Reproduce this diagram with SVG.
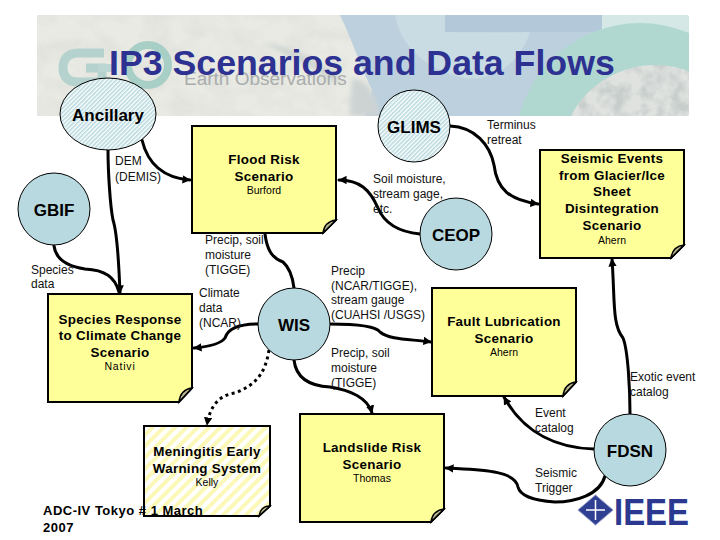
<svg xmlns="http://www.w3.org/2000/svg" width="720" height="540" viewBox="0 0 720 540">
<style>
text{font-family:"Liberation Sans",Arial,sans-serif;fill:#000}
.l{font-size:12px;fill:#111}
.s{font-size:13.4px;font-weight:bold;text-anchor:middle;letter-spacing:.3px}
.a{font-size:10.5px;text-anchor:middle}
.c{font-size:17px;font-weight:bold;text-anchor:middle}
.n{stroke:#000;stroke-width:1}
.box{stroke:#000;stroke-width:2}
.fold{fill:#b9b68f;stroke:#000;stroke-width:1.5}
.con path{fill:none;stroke:#000;stroke-width:3;stroke-linecap:round}
</style>
<defs>
<pattern id="h1" width="3" height="3" patternUnits="userSpaceOnUse" patternTransform="rotate(-45)"><rect width="3" height="3" fill="#fff"/><rect width="3" height="1.6" fill="#b8d9df"/></pattern>
<pattern id="h2" width="8" height="8" patternUnits="userSpaceOnUse" patternTransform="rotate(-45)"><rect width="8" height="8" fill="#fff"/><rect width="8" height="4" fill="#fbf8b8"/></pattern>
<marker id="ar" viewBox="0 0 10 10" refX="9" refY="5" markerWidth="2.8" markerHeight="2.8" orient="auto"><path d="M0 0L10 5L0 10Z" fill="#000"/></marker>
<filter id="mot" x="0" y="0" width="1" height="1"><feTurbulence type="fractalNoise" baseFrequency=".035 .05" numOctaves="4" seed="5"/><feColorMatrix values="0 0 0 0 .62  0 0 0 0 .64  0 0 0 0 .62  1.6 0 0 0 -.62"/></filter>
<filter id="mot2" x="0" y="0" width="1" height="1"><feTurbulence type="fractalNoise" baseFrequency=".07" numOctaves="3" seed="9"/><feColorMatrix values="0 0 0 0 .45  0 0 0 0 .5  0 0 0 0 .5  3 0 0 0 -1.2"/></filter>
<filter id="soft" x="-20%" y="-20%" width="140%" height="140%"><feGaussianBlur stdDeviation="2.500"/></filter>
<clipPath id="earth"><circle cx="655" cy="160" r="95"/></clipPath>
<clipPath id="land"><path d="M37 15H340C352 40 362 70 372 90L365 116H37Z"/></clipPath>
<clipPath id="bc"><rect x="37" y="15" width="652" height="101" rx="3"/></clipPath>
</defs>
<g id="banner" clip-path="url(#bc)">
<rect x="37" y="15" width="652" height="101" fill="#bcd0de"/>
<path d="M37 15H340C352 40 362 70 372 90L365 116H37Z" fill="#e9eae3"/>
<rect x="37" y="15" width="335" height="101" filter="url(#mot)" opacity=".45" clip-path="url(#land)"/>
<path d="M352 78C366 80 376 92 380 116H350Z" fill="#cdd3d3" filter="url(#soft)"/>
<path d="M262 42C285 45 310 55 340 78L335 82C310 65 285 55 262 42Z" fill="#ced4d2" filter="url(#soft)"/>
<path d="M395 15H445V32C460 32 500 33 530 32C520 65 490 82 465 78C425 70 400 45 395 15Z" fill="#c9dce4"/>
<path d="M445 15H602V28C600 31 598 32 594 32H445Z" fill="#b3c9da"/>
<path d="M602 15H689V116H602Z" fill="#d5e8e6"/>
<circle cx="640" cy="148" r="125" fill="#b0d8d0"/>
<circle cx="655" cy="160" r="95" fill="#dfe2df"/>
<rect x="560" y="60" width="129" height="56" filter="url(#mot2)" clip-path="url(#earth)" opacity=".55"/>
<path d="M104 53H78C67 53 63 60 63 68C63 77 68 82 78 82H102V68H86" fill="none" stroke="#b5d2cf" stroke-width="9"/>
<path d="M98 68H114" fill="none" stroke="#bcd6d3" stroke-width="8"/>
<circle cx="148" cy="65" r="20" fill="none" stroke="#a7cfc6" stroke-width="8"/>
<text x="184" y="85" font-size="19" style="fill:#a9adad">Earth Observations</text>
</g>
<text id="title" x="109" y="75" font-size="35.7" font-weight="bold" style="fill:#2d3192">IP3 Scenarios and Data Flows</text>

<g id="connectors" class="con">
<path d="M142 140C148 165 165 178 190 180" marker-end="url(#ar)"/>
<path d="M108 150C108 170 110 205 113 220C118 235 119 270 120 293" marker-end="url(#ar)"/>
<path d="M54 246C56 262 72 267 85 269C105 270 115 277 119 292"/>
<path d="M265 234C267 250 272 258 283 262C290 268 293 280 294 288"/>
<path d="M420 234C400 232 385 225 378 208C370 190 360 180 339 180" marker-end="url(#ar)"/>
<path d="M450 126C475 127 490 145 494 165C497 190 510 200 538 204" marker-end="url(#ar)"/>
<path d="M258 324C240 324 228 328 225 338C220 345 205 347 194 348" marker-end="url(#ar)"/>
<path d="M269 350C265 375 255 385 235 393C220 395 210 405 207 425" stroke-dasharray="3 3.5" style="stroke-linecap:butt" marker-end="url(#ar)"/>
<path d="M330 324C350 324 375 325 380 332C390 340 410 339 431 342" marker-end="url(#ar)"/>
<path d="M294 360C296 378 310 386 330 387C350 390 368 398 372 413" marker-end="url(#ar)"/>
<path d="M630 414C630 390 628 350 623 338C612 325 615 300 612 259" marker-end="url(#ar)"/>
<path d="M594 449C560 448 525 435 504 397" marker-end="url(#ar)"/>
<path d="M605 476C600 495 575 502 555 502C530 500 520 495 518 487C515 470 480 470 446 468" marker-end="url(#ar)"/>
</g>

<g id="ancillary"><ellipse class="n" cx="108" cy="114" rx="48" ry="36" fill="url(#h1)"/><text class="c" x="108" y="121">Ancillary</text></g>
<g id="glims"><circle class="n" cx="414" cy="126" r="36" fill="url(#h1)"/><text class="c" x="414" y="133">GLIMS</text></g>
<g id="gbif"><circle class="n" cx="54" cy="209" r="36" fill="#b8d9df"/><text class="c" x="54" y="216">GBIF</text></g>
<g id="ceop"><circle class="n" cx="456" cy="234" r="36" fill="#b8d9df"/><text class="c" x="456" y="241">CEOP</text></g>
<g id="wis"><circle class="n" cx="294" cy="324" r="36" fill="#b8d9df"/><text class="c" x="294" y="331">WIS</text></g>
<g id="fdsn"><circle class="n" cx="630" cy="450" r="36" fill="#b8d9df"/><text class="c" x="630" y="457">FDSN</text></g>

<g id="flood"><path class="box" d="M192 126H336V220L323 233H192Z" fill="#ffff99"/><path class="fold" d="M323 233L336 220C328 221 324 225 323 233Z"/>
<text class="s" x="264" y="164">Flood Risk</text><text class="s" x="264" y="181">Scenario</text><text class="a" x="264" y="194">Burford</text></g>
<g id="seismic"><path class="box" d="M540 150H684V245L671 258H540Z" fill="#ffff99"/><path class="fold" d="M671 258L684 245C676 246 672 250 671 258Z"/>
<text class="s" x="612" y="163">Seismic Events</text><text class="s" x="612" y="180">from Glacier/Ice</text><text class="s" x="612" y="196">Sheet</text><text class="s" x="612" y="213">Disintegration</text><text class="s" x="612" y="230">Scenario</text><text class="a" x="612" y="244">Ahern</text></g>
<g id="species"><path class="box" d="M48 294H192V388L179 402H48Z" fill="#ffff99"/><path class="fold" d="M179 402L192 388C184 389 180 393 179 402Z"/>
<text class="s" x="120" y="324">Species Response</text><text class="s" x="120" y="340">to Climate Change</text><text class="s" x="120" y="357">Scenario</text><text class="a" x="120" y="370" style="letter-spacing:.8px">Nativi</text></g>
<g id="fault"><path class="box" d="M432 288H576V382L563 396H432Z" fill="#ffff99"/><path class="fold" d="M563 396L576 382C568 383 564 387 563 396Z"/>
<text class="s" x="504" y="326">Fault Lubrication</text><text class="s" x="504" y="343">Scenario</text><text class="a" x="504" y="356">Ahern</text></g>
<g id="meningitis"><path class="box" d="M144 426H270V506L259 516H144Z" fill="url(#h2)"/><path class="fold" d="M259 516L270 506C263 506 260 510 259 516Z"/>
<text class="s" x="207" y="456">Meningitis Early</text><text class="s" x="207" y="473">Warning System</text><text class="a" x="207" y="486">Kelly</text></g>
<g id="landslide"><path class="box" d="M300 414H444V509L431 522H300Z" fill="#ffff99"/><path class="fold" d="M431 522L444 509C436 510 432 514 431 522Z"/>
<text class="s" x="372" y="452">Landslide Risk</text><text class="s" x="372" y="469">Scenario</text><text class="a" x="372" y="482">Thomas</text></g>

<g id="labels">
<text class="l" x="115" y="165">DEM</text><text class="l" x="115" y="181">(DEMIS)</text>
<text class="l" x="31" y="274">Species</text><text class="l" x="31" y="288">data</text>
<text class="l" x="205" y="244">Precip, soil</text><text class="l" x="205" y="259">moisture</text><text class="l" x="205" y="274">(TIGGE)</text>
<text class="l" x="199" y="297">Climate</text><text class="l" x="199" y="312">data</text><text class="l" x="199" y="327">(NCAR)</text>
<text class="l" x="487" y="129">Terminus</text><text class="l" x="487" y="144">retreat</text>
<text class="l" x="373" y="183">Soil moisture,</text><text class="l" x="373" y="198">stream gage,</text><text class="l" x="373" y="213">etc.</text>
<text class="l" x="331" y="275">Precip</text><text class="l" x="331" y="290">(NCAR/TIGGE),</text><text class="l" x="331" y="304">stream gauge</text><text class="l" x="331" y="319">(CUAHSI /USGS)</text>
<text class="l" x="331" y="357">Precip, soil</text><text class="l" x="331" y="372">moisture</text><text class="l" x="331" y="387">(TIGGE)</text>
<text class="l" x="630" y="381">Exotic event</text><text class="l" x="630" y="396">catalog</text>
<text class="l" x="535" y="417">Event</text><text class="l" x="535" y="432">catalog</text>
<text class="l" x="535" y="477">Seismic</text><text class="l" x="535" y="492">Trigger</text>
</g>
<text id="footer" x="43" y="515" font-size="13" font-weight="bold" style="letter-spacing:.5px">ADC-IV Tokyo # 1 March</text>
<text id="footer2" x="43" y="532" font-size="13" font-weight="bold" style="letter-spacing:.5px">2007</text>
<g id="ieee">
<path d="M595.500 495L613 510L595.500 525L578 510Z" fill="#2f3f91" stroke="#8d97c4"/>
<path d="M595.500 500V520M586 510H605" stroke="#fff" fill="none" stroke-width="1.500"/>
<text x="614" y="525" font-size="37" font-weight="bold" style="fill:#2b3a90" textLength="75" lengthAdjust="spacingAndGlyphs">IEEE</text>
</g>
</svg>
